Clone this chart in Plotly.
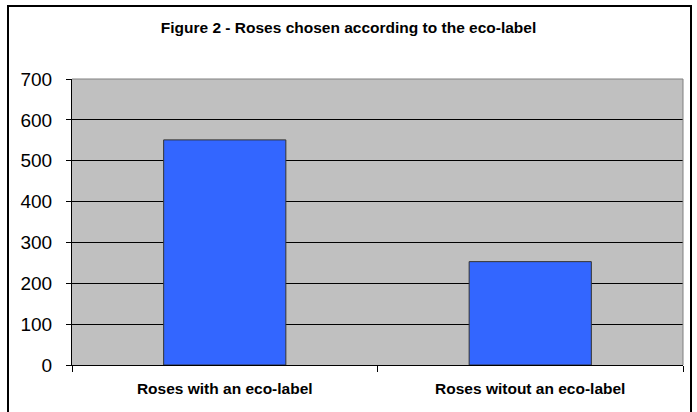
import plotly.graph_objects as go

categories = ["Roses with an eco-label", "Roses witout an eco-label"]
values = [551, 253]
y_ticks = [0, 100, 200, 300, 400, 500, 600, 700]
title_text = "Figure 2 - Roses chosen according to the eco-label"

W, H = 697, 412
ml, mr, mt, mb = 72, 14, 79, 47
pw, ph = W - ml - mr, H - mt - mb

def px(x):
    return (x - ml) / pw

def py(y):
    return (H - mb - y) / ph

fig = go.Figure()
fig.add_trace(go.Bar(
    x=categories, y=values, width=0.4,
    marker=dict(color="#3366FF", line=dict(color="#333333", width=1)),
))

fig.update_layout(
    width=W, height=H,
    margin=dict(l=ml, r=mr, t=mt, b=mb),
    paper_bgcolor="white", plot_bgcolor="#C0C0C0",
    showlegend=False,
    font=dict(family="Liberation Sans, Arial, sans-serif", color="black"),
    title=dict(text="<b>" + title_text + "</b>", x=0.5, xanchor="center",
               y=1 - 28 / H, yanchor="middle", font=dict(size=15.5, color="black")),
    bargap=0.6,
)
fig.update_xaxes(
    type="category", showgrid=False, showline=True, linecolor="black", linewidth=1,
    ticks="outside", ticklen=6, tickcolor="black", tickson="boundaries",
    tickfont=dict(size=15.5), ticklabelstandoff=9,
    tickvals=categories, ticktext=["<b>" + c + "</b>" for c in categories],
)
fig.update_yaxes(
    range=[0, 700], tickvals=y_ticks, showgrid=True, gridcolor="black", gridwidth=1,
    showline=True, linecolor="black", linewidth=1,
    ticks="outside", ticklen=5, tickcolor="black",
    tickfont=dict(size=19), zeroline=False, ticklabelstandoff=10,
)
# gray top and right border of plot area
fig.add_shape(type="path", xref="paper", yref="paper",
              path="M 0,1 L 1,1 L 1,0", line=dict(color="#808080", width=1), layer="above")
# outer chart border
fig.add_shape(type="rect", xref="paper", yref="paper",
              x0=px(8), x1=px(691), y0=py(416), y1=py(6),
              line=dict(color="black", width=2), fillcolor="rgba(0,0,0,0)", layer="above")

fig.write_html("out.html")
